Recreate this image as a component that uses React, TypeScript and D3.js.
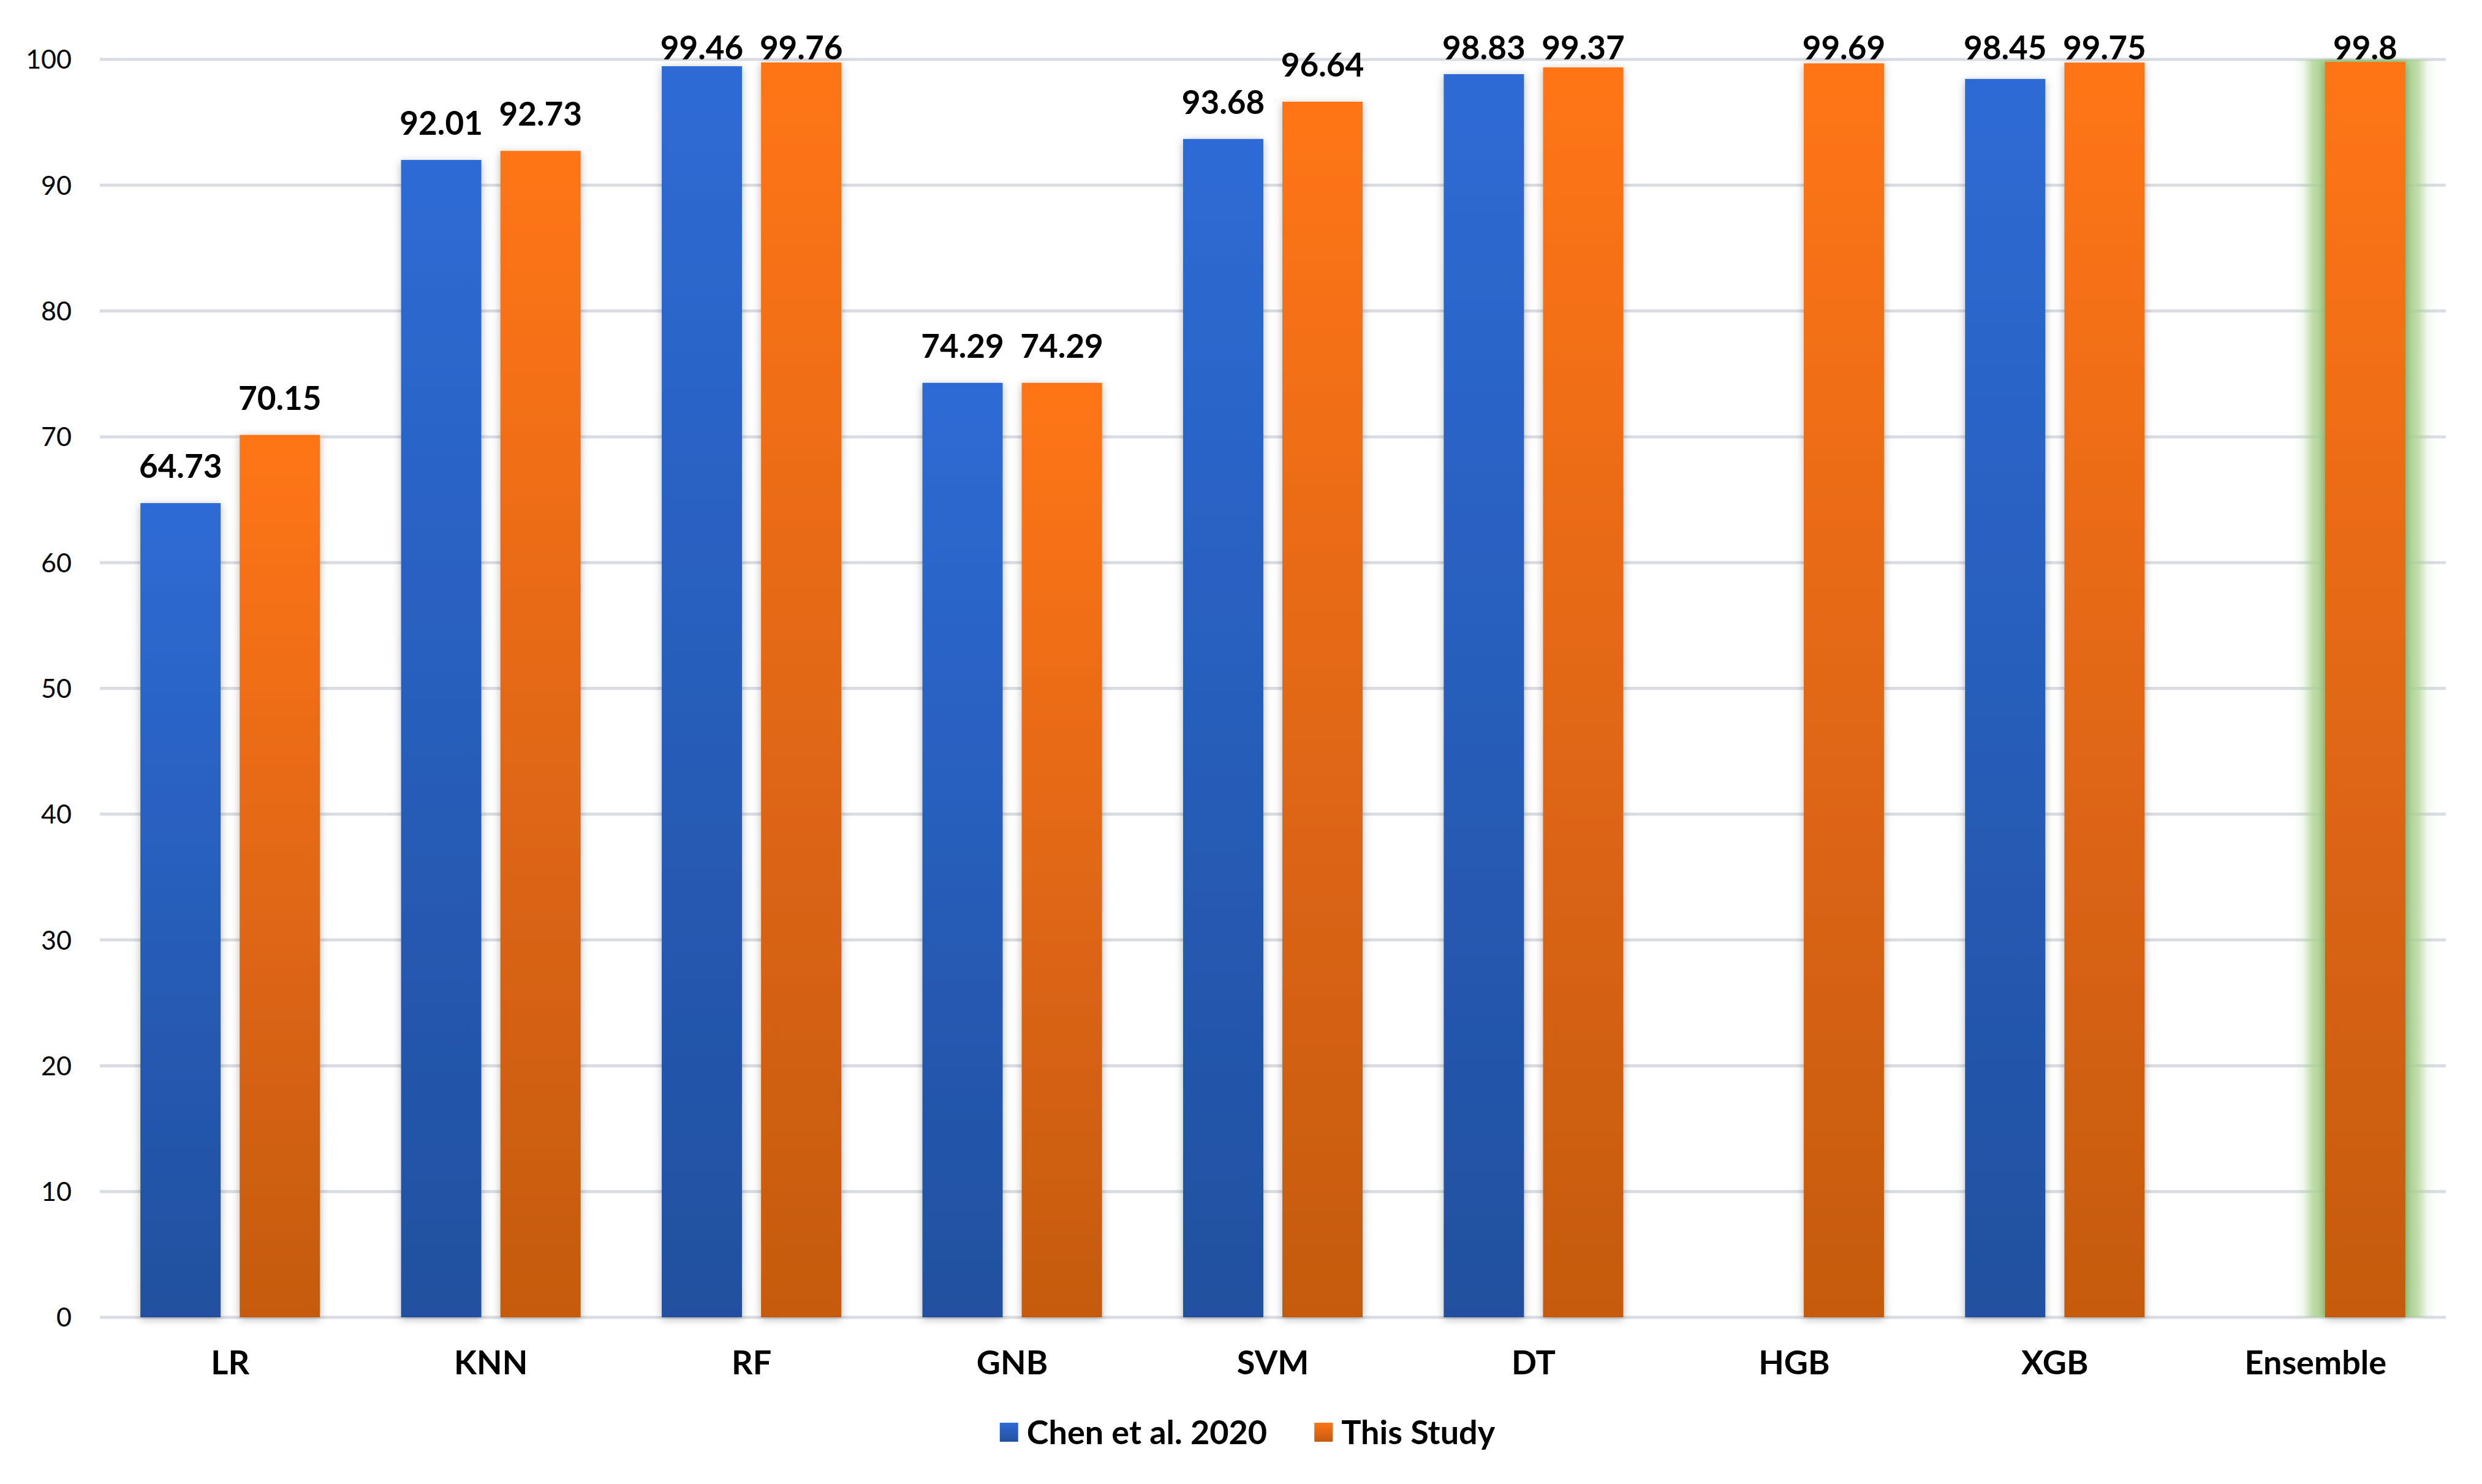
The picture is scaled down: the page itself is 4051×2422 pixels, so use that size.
import { useRef, useEffect } from "react";
import * as d3 from "d3";

// values
const categories = ["LR", "KNN", "RF", "GNB", "SVM", "DT", "HGB", "XGB", "Ensemble"];
const chenValues = [64.73, 92.01, 99.46, 74.29, 93.68, 98.83, null, 98.45, null];
const studyValues = [70.15, 92.73, 99.76, 74.29, 96.64, 99.37, 99.69, 99.75, 99.8];
const seriesNames = ["Chen et al. 2020", "This Study"];
const yTicks = [0, 10, 20, 30, 40, 50, 60, 70, 80, 90, 100];
const highlighted = "Ensemble";

const W = 4051;
const H = 2422;
const FONT = "Lato, 'Noto Sans', sans-serif";

const App = () => {
    const svgRef = useRef(null);

    useEffect(() => {
        const svg = d3.select(svgRef.current);
        svg.selectAll("*").remove();

        const plot = { left: 163, right: 3992, top: 97, bottom: 2150 };

        const x = d3.scaleBand().domain(categories).range([plot.left, plot.right]).padding(0);
        const y = d3.scaleLinear().domain([0, 100]).range([plot.bottom, plot.top]);
        const bw = x.bandwidth();
        const barW = bw * 0.308;
        const gap = bw * 0.073;

        const defs = svg.append("defs");
        const grad = (id, top, bottom) => {
            const g = defs.append("linearGradient").attr("id", id)
                .attr("x1", 0).attr("y1", 0).attr("x2", 0).attr("y2", 1);
            g.append("stop").attr("offset", "0%").attr("stop-color", top);
            g.append("stop").attr("offset", "100%").attr("stop-color", bottom);
        };
        grad("gBlue", "#2e6bd5", "#21509f");
        grad("gOrange", "#ff7514", "#c55a11");
        const colors = ["url(#gBlue)", "url(#gOrange)"];

        const glow = defs.append("linearGradient").attr("id", "gGlow")
            .attr("x1", 0).attr("y1", 0).attr("x2", 1).attr("y2", 0);
        [[0, 0], [0.06, 0.15], [0.13, 0.75], [0.22, 1], [0.78, 1], [0.87, 0.75], [0.94, 0.15], [1, 0]]
            .forEach(([o, a]) => glow.append("stop").attr("offset", o)
                .attr("stop-color", "#a9d18e").attr("stop-opacity", a));

        const shadow = defs.append("filter").attr("id", "shadow")
            .attr("x", "-30%").attr("y", "-5%").attr("width", "160%").attr("height", "110%");
        shadow.append("feDropShadow").attr("dx", 0).attr("dy", 3).attr("stdDeviation", 7)
            .attr("flood-color", "#000").attr("flood-opacity", 0.28);

        defs.append("clipPath").attr("id", "plotClip").append("rect")
            .attr("x", 0).attr("y", plot.top).attr("width", W).attr("height", plot.bottom - plot.top);

        svg.append("rect").attr("width", W).attr("height", H).attr("fill", "#fff");

        // gridlines
        svg.append("g").selectAll("line").data(yTicks).join("line")
            .attr("x1", plot.left).attr("x2", plot.right)
            .attr("y1", d => y(d)).attr("y2", d => y(d))
            .attr("stroke", "#d9dde3").attr("stroke-width", 5);

        svg.append("g").selectAll("text").data(yTicks).join("text")
            .attr("x", 117).attr("y", d => y(d)).attr("dy", "0.36em")
            .attr("text-anchor", "end").attr("font-family", FONT).attr("font-size", 43)
            .attr("fill", "#000").text(d => d);

        const series = [chenValues, studyValues];
        const barX = (c, s) => {
            const center = x(c) + bw / 2;
            return s === 0 ? center - gap / 2 - barW : center + gap / 2;
        };

        // glow behind the highlighted category
        const hi = categories.indexOf(highlighted);
        const hv = studyValues[hi];
        svg.append("rect")
            .attr("clip-path", "url(#plotClip)")
            .attr("x", barX(highlighted, 1) - 50).attr("width", barW + 100)
            .attr("y", y(hv) - 50).attr("height", y(0) - y(hv) + 50)
            .attr("fill", "url(#gGlow)");

        const bars = [];
        series.forEach((vals, s) => {
            vals.forEach((v, i) => {
                if (v != null) bars.push({ c: categories[i], v, s });
            });
        });

        svg.append("g").selectAll("rect").data(bars).join("rect")
            .attr("x", d => barX(d.c, d.s)).attr("width", barW)
            .attr("y", d => y(d.v)).attr("height", d => y(0) - y(d.v))
            .attr("fill", d => colors[d.s])
            .attr("filter", "url(#shadow)");

        svg.append("g").selectAll("text").data(bars).join("text")
            .attr("x", d => barX(d.c, d.s) + barW / 2)
            .attr("y", d => Math.max(y(d.v) - 41, y(100)))
            .attr("text-anchor", "middle").attr("font-family", FONT)
            .attr("font-size", 53).attr("font-weight", "bold").attr("fill", "#000")
            .text(d => String(d.v));

        // category labels
        svg.append("g").selectAll("text").data(categories).join("text")
            .attr("x", d => x(d) + bw / 2).attr("y", 2243)
            .attr("text-anchor", "middle").attr("font-family", FONT)
            .attr("font-size", 54).attr("font-weight", "bold").attr("fill", "#000")
            .text(d => d);

        // legend
        const lg = svg.append("g");
        const items = seriesNames.map((name, s) => {
            const g = lg.append("g");
            g.append("rect").attr("width", 30).attr("height", 31).attr("y", 2322)
                .attr("fill", colors[s]);
            const t = g.append("text").attr("x", 44).attr("y", 2357)
                .attr("font-family", FONT).attr("font-size", 54).attr("font-weight", "bold")
                .attr("fill", "#000").text(name);
            return { g, w: 44 + t.node().getComputedTextLength() };
        });
        const spacing = 77;
        const total = d3.sum(items, d => d.w) + spacing * (items.length - 1);
        let cx = 2036 - total / 2;
        items.forEach(it => {
            it.g.attr("transform", `translate(${cx},0)`);
            cx += it.w + spacing;
        });
    }, []);

    return (
        <svg ref={svgRef} width={W} height={H}
            style={{ position: "absolute", left: 0, top: 0, display: "block" }}></svg>
    );
};

export default App;
